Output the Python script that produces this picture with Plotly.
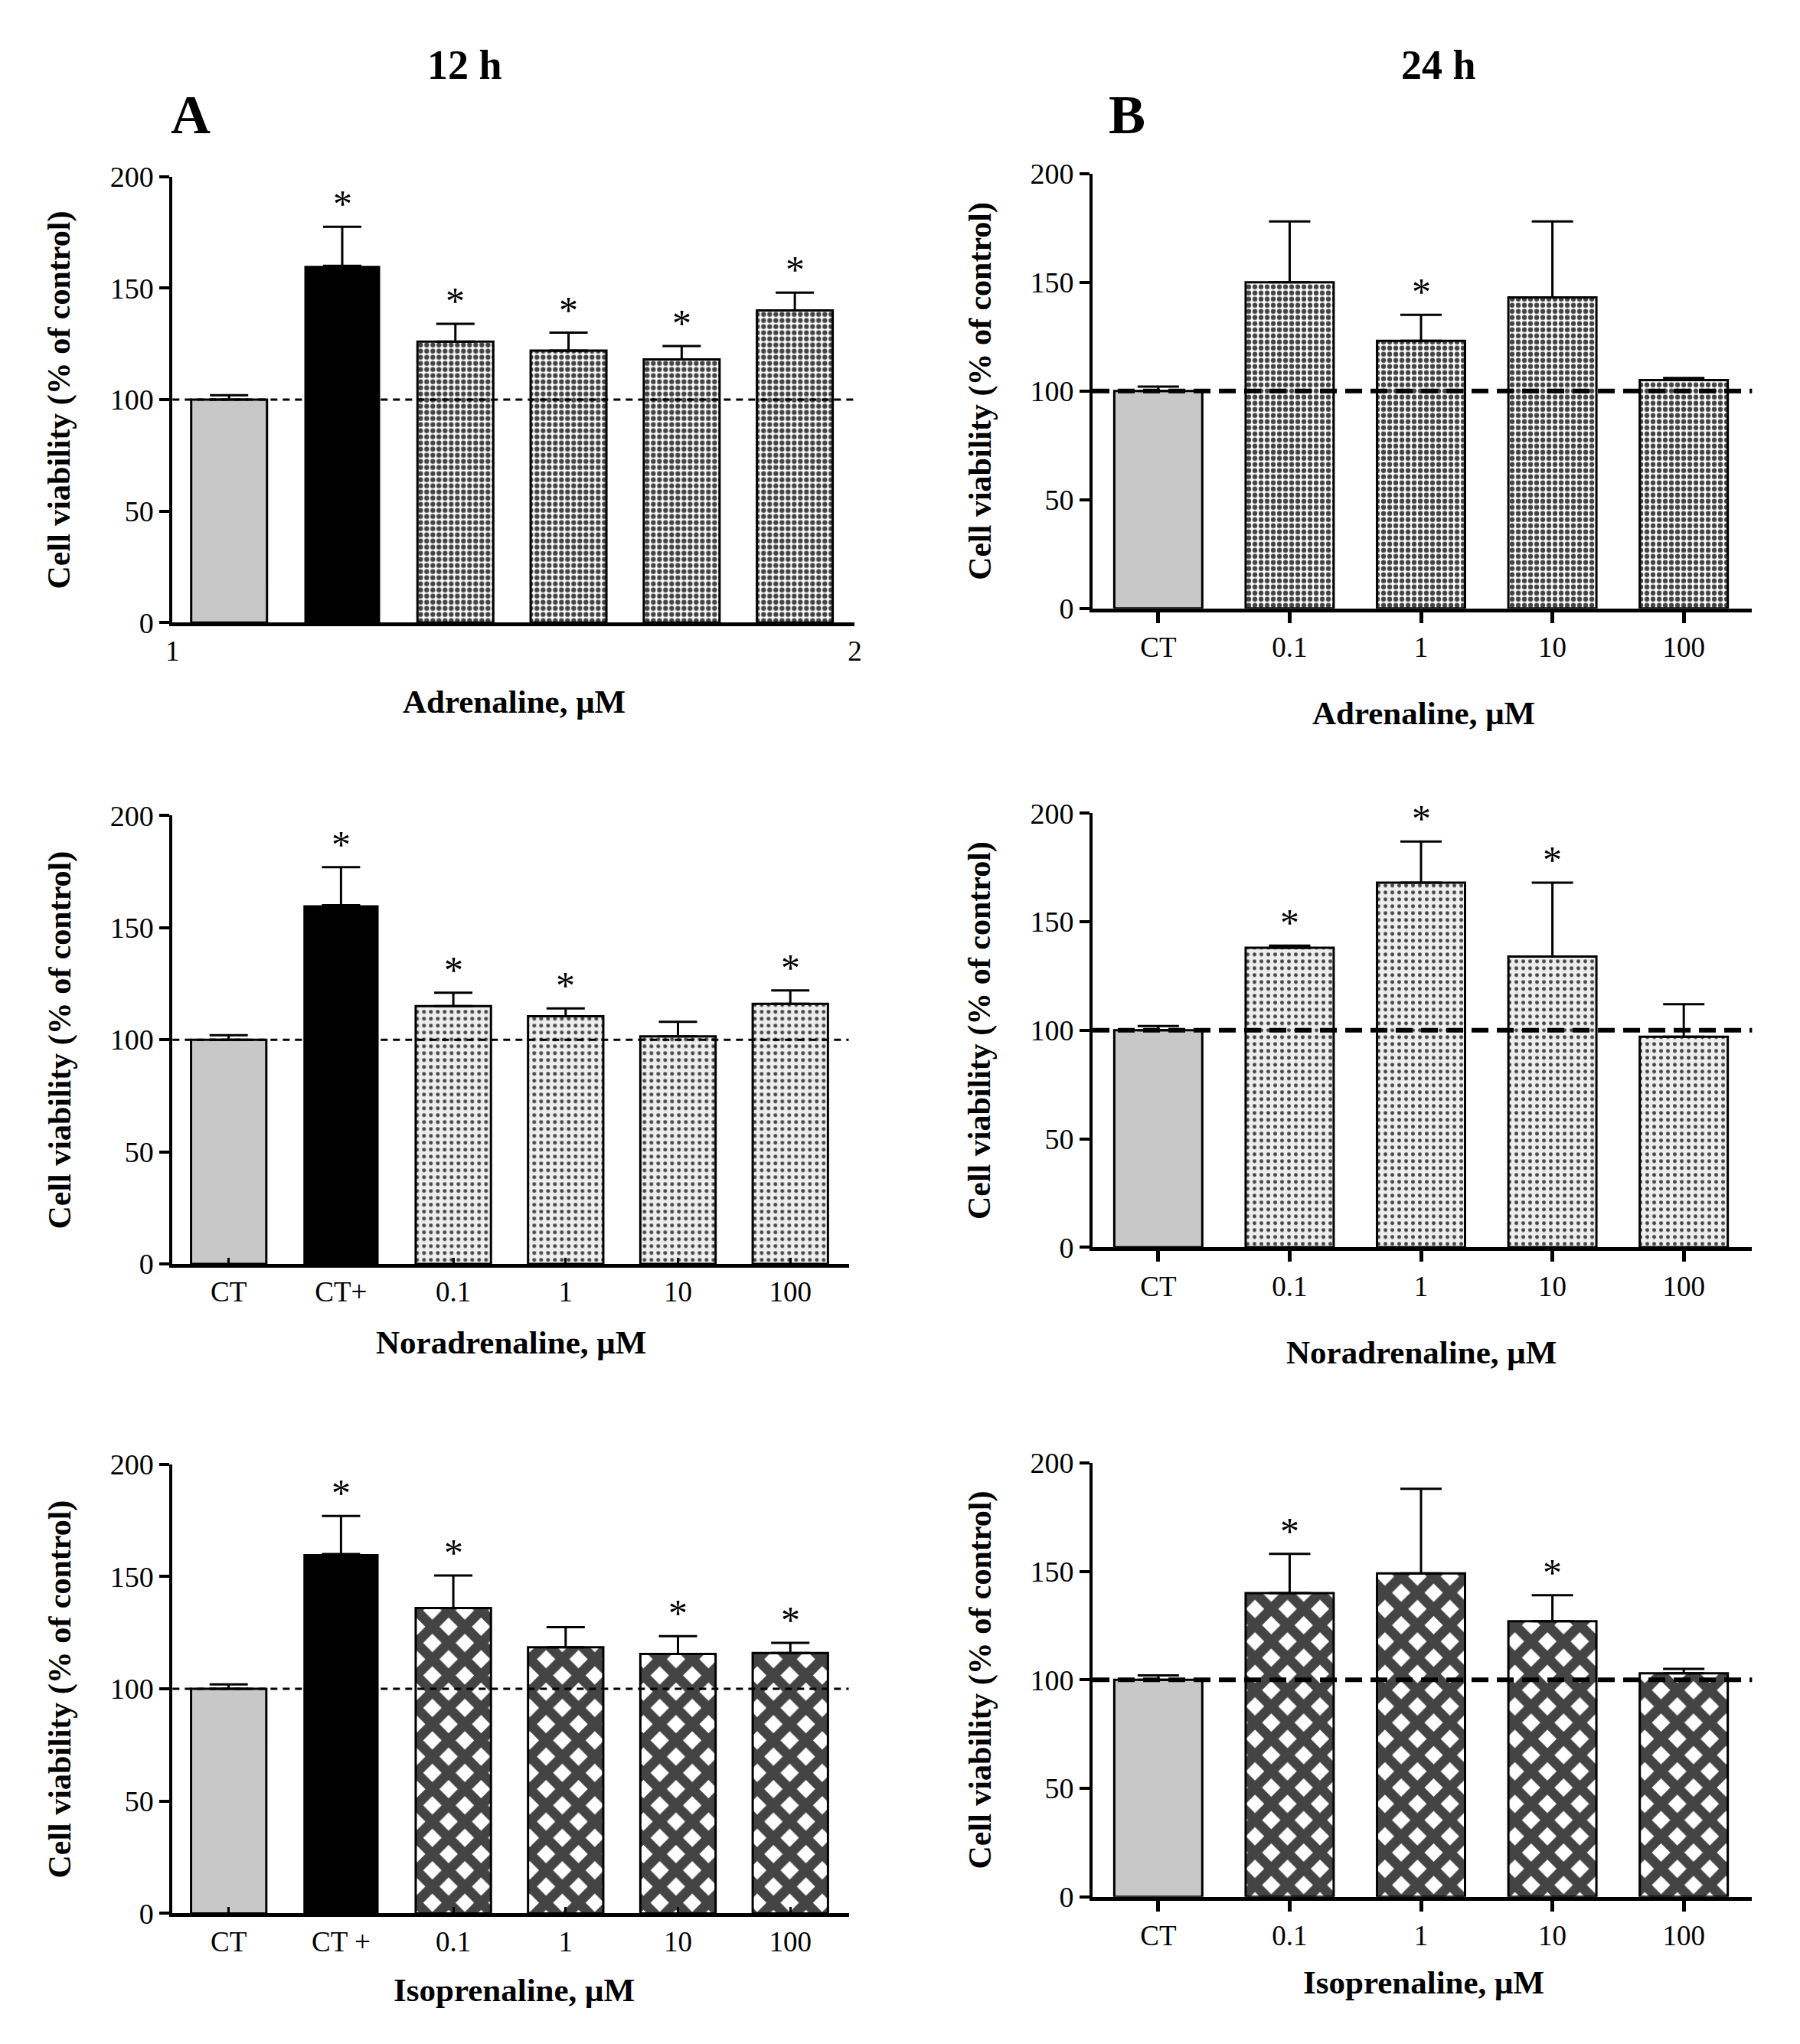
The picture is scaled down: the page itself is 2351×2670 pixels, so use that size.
import plotly.graph_objects as go

W, H = 2351, 2670

# ---------------- data ----------------
cats_a1 = ["CT", "CT+", "0.1", "1", "10", "100"]
ticks_a1 = ["1", "2"]
vals_a1 = [100, 160, 126, 122, 118, 140]
errs_a1 = [2, 17.5, 8, 8, 6, 8]
sig_a1 = [0, 1, 1, 1, 1, 1]

cats_a2 = ["CT", "CT+", "0.1", "1", "10", "100"]
vals_a2 = [100, 160, 115, 110.5, 101.5, 116]
errs_a2 = [2, 17, 6, 3.5, 6.5, 6]
sig_a2 = [0, 1, 1, 1, 0, 1]

cats_a3 = ["CT", "CT +", "0.1", "1", "10", "100"]
vals_a3 = [100, 160, 136, 118.5, 115.5, 116]
errs_a3 = [2, 17, 14.5, 9, 8, 4.5]
sig_a3 = [0, 1, 1, 0, 1, 1]

cats_b = ["CT", "0.1", "1", "10", "100"]
vals_b1 = [100, 150, 123, 143, 105]
errs_b1 = [2, 28, 12, 35, 1]
sig_b1 = [0, 0, 1, 0, 0]

vals_b2 = [100, 138, 168, 134, 97]
errs_b2 = [2, 1, 19, 34, 15]
sig_b2 = [0, 1, 1, 1, 0]

vals_b3 = [100, 140, 149, 127, 103]
errs_b3 = [2, 18, 39, 12, 2]
sig_b3 = [0, 1, 0, 1, 0]

col_titles = ["12 h", "24 h"]
panel_letters = ["A", "B"]
x_titles = ["Adrenaline, \u03bcM", "Noradrenaline, \u03bcM", "Isoprenaline, \u03bcM"]
y_title = "Cell viability (% of control)"
y_ticks = [0, 50, 100, 150, 200]

# ---------------- styles ----------------
FONT = "Liberation Serif"
CT_STYLE = dict(color="#c8c8c8", shape="", size=8, solidity=0.5)
POS_STYLE = dict(color="#000000", shape="", size=8, solidity=0.5)
DRUG_STYLES = [
    dict(color="#ffffff", shape=".", size=8, solidity=0.5),      # adrenaline checker
    dict(color="#eeeeee", shape=".", size=9, solidity=0.24),     # noradrenaline dots
    dict(color="#ffffff", shape="x", size=30, solidity=0.68),    # isoprenaline lattice
]

def px_x(p):
    return p / W

def px_y(p):
    return 1 - p / H

# panel definitions: (cats, vals, errs, sig, row, col, x-domain px, y-domain px (top, bottom))
panels = [
    (cats_a1, vals_a1, errs_a1, sig_a1, 0, 0, (218, 1116), (213, 805)),
    (cats_b, vals_b1, errs_b1, sig_b1, 0, 1, (1429, 2297), (209, 786)),
    (cats_a2, vals_a2, errs_a2, sig_a2, 1, 0, (218, 1108), (1061, 1656)),
    (cats_b, vals_b2, errs_b2, sig_b2, 1, 1, (1429, 2297), (1058, 1634)),
    (cats_a3, vals_a3, errs_a3, sig_a3, 2, 0, (218, 1108), (1922, 2518)),
    (cats_b, vals_b3, errs_b3, sig_b3, 2, 1, (1429, 2297), (1920, 2496)),
]
x_title_pos = {(0, 0): (668, 910), (1, 0): (664, 1760), (2, 0): (668, 2620),
               (0, 1): (1865, 925), (1, 1): (1862, 1773), (2, 1): (1865, 2610)}
y_title_x = {0: 70, 1: 1281}

fig = go.Figure()
layout = dict(width=W, height=H, margin=dict(l=0, r=0, t=0, b=0),
              paper_bgcolor="white", plot_bgcolor="white", showlegend=False,
              font=dict(family=FONT, color="black"))
annotations = []
shapes = []

for k, (cats, vals, errs, sig, row, col, xd, yd) in enumerate(panels):
    n = len(cats)
    idx = k + 1
    xa = "x" if idx == 1 else f"x{idx}"
    ya = "y" if idx == 1 else f"y{idx}"
    xs = list(range(n))
    styles = []
    for c in cats:
        if c == "CT":
            styles.append(CT_STYLE)
        elif c.startswith("CT"):
            styles.append(POS_STYLE)
        else:
            styles.append(DRUG_STYLES[row])
    line_w = [0 if s is POS_STYLE else 3 for s in styles]
    fig.add_trace(go.Bar(
        x=xs, y=vals, width=0.67, xaxis=xa, yaxis=ya,
        marker=dict(
            color=[s["color"] for s in styles],
            line=dict(color="black", width=line_w),
            pattern=dict(shape=[s["shape"] for s in styles],
                         size=[s["size"] for s in styles],
                         solidity=[s["solidity"] for s in styles],
                         fgcolor="black", fgopacity=1, fillmode="overlay"),
        ),
        error_y=dict(type="data", symmetric=False, array=errs,
                     arrayminus=[0] * n, color="black", thickness=3,
                     width=25 if col == 0 else 27),
        hoverinfo="skip",
    ))
    xr = [-0.5, n - 0.5 + (0.03 if (row == 0 and col == 0) else 0.02)]
    xkey = "xaxis" if idx == 1 else f"xaxis{idx}"
    ykey = "yaxis" if idx == 1 else f"yaxis{idx}"
    if row == 0 and col == 0:
        tickvals, ticktext, ticks, tlen, twid = xr, ticks_a1, "", 0, 0
    elif col == 0:
        tickvals, ticktext, ticks, tlen, twid = xs, cats, "inside", 8, 3
    else:
        tickvals, ticktext, ticks, tlen, twid = xs, cats, "outside", 14, 5
    layout[xkey] = dict(domain=[px_x(xd[0]), px_x(xd[1])], anchor=ya, range=xr,
                        showline=True, linecolor="black", linewidth=5,
                        showgrid=False, zeroline=False,
                        tickmode="array", tickvals=tickvals, ticktext=ticktext,
                        ticks=ticks, ticklen=tlen, tickwidth=twid, tickcolor="black",
                        tickfont=dict(family=FONT, size=37, color="black"))
    layout[ykey] = dict(domain=[px_y(yd[1]), px_y(yd[0])], anchor=xa, range=[0, 200],
                        showline=True, linecolor="black", linewidth=4,
                        showgrid=False, zeroline=False,
                        tickmode="array", tickvals=y_ticks,
                        ticks="outside", ticklen=13, tickwidth=4, tickcolor="black",
                        tickfont=dict(family=FONT, size=38, color="black"))
    # dashed control line at 100 %
    shapes.append(dict(type="line", xref=f"{xa} domain", yref=ya, x0=0, x1=1,
                       y0=100, y1=100, layer="above",
                       line=dict(color="black", width=3 if col == 0 else 6,
                                 dash="9px,7px" if col == 0 else "22px,11px")))
    # significance asterisks
    for i in range(n):
        if sig[i]:
            annotations.append(dict(x=i, y=vals[i] + errs[i], xref=xa, yref=ya,
                                    text="*", showarrow=False, xanchor="center",
                                    yanchor="bottom", yshift=0,
                                    font=dict(family=FONT, size=50, color="black")))
    # axis titles
    tx, ty = x_title_pos[(row, col)]
    annotations.append(dict(x=px_x(tx), y=px_y(ty), xref="paper", yref="paper",
                            xanchor="center", yanchor="middle",
                            text=f"<b>{x_titles[row]}</b>", showarrow=False,
                            font=dict(family=FONT, size=43, color="black")))
    annotations.append(dict(x=px_x(y_title_x[col]), y=px_y((yd[0] + yd[1]) / 2),
                            xref="paper", yref="paper", textangle=-90,
                            xanchor="center", yanchor="middle",
                            text=f"<b>{y_title}</b>", showarrow=False,
                            font=dict(family=FONT, size=42, color="black")))

# column titles and panel letters
for c, (t, lx, tx) in enumerate(zip(col_titles, [242, 1474], [603, 1884])):
    annotations.append(dict(x=px_x(tx), y=px_y(65), xref="paper", yref="paper",
                            xanchor="center", yanchor="middle",
                            text=f"<b>{t}</b>", showarrow=False,
                            font=dict(family=FONT, size=54, color="black")))
    annotations.append(dict(x=px_x(lx), y=px_y(131), xref="paper", yref="paper",
                            xanchor="center", yanchor="middle",
                            text=f"<b>{panel_letters[c]}</b>", showarrow=False,
                            font=dict(family=FONT, size=72, color="black")))

layout["annotations"] = annotations
layout["shapes"] = shapes
fig.update_layout(**layout)
fig.write_html("out.html", config={"displayModeBar": False},
               post_script="document.body.style.margin='0px';document.body.style.overflow='hidden';")
